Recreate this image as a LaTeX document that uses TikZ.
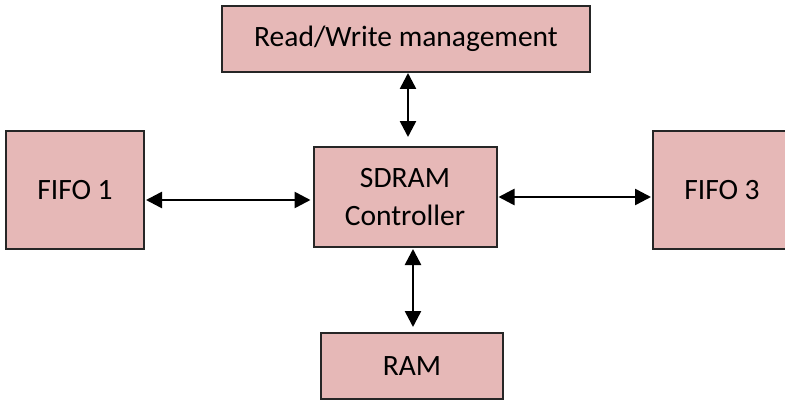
\documentclass[tikz,border=0pt]{standalone}
\usepackage{fontspec}
\setmainfont{Carlito}
\usetikzlibrary{positioning, arrows.meta}
\definecolor{boxfill}{RGB}{230,184,183}

\begin{document}
\begin{tikzpicture}[
    x=1pt, y=-1pt,
    font=\fontsize{29.5}{38}\selectfont,
    % Style for the pink blocks
    block/.style = {draw=black!85, line width=2pt, fill=boxfill, align=center, inner sep=0pt},
    % Style for the two-way links between blocks
    link/.style = {{Triangle[length=16pt,width=16pt]}-{Triangle[length=16pt,width=16pt]}, line width=2.6pt}
]
    \useasboundingbox (0,0) rectangle (785,404);

    % --- BLOCKS ---
    \node[block, minimum width=368pt, minimum height=66pt] (rw) at (406, 39) {Read/Write management};
    \node[block, minimum width=138pt, minimum height=118pt] (fifoA) at (75, 190) {FIFO 1};
    \node[block, minimum width=183pt, minimum height=100pt] (sdram) at (405, 197) {SDRAM\\Controller};
    \node[block, minimum width=138pt, minimum height=118pt] (fifoC) at (722, 190) {FIFO 3};
    \node[block, minimum width=182pt, minimum height=66pt] (ram) at (412, 366) {RAM};

    % --- LINKS ---
    \draw[link, shorten >=9pt] ([xshift=2pt]rw.south) -- ([xshift=2pt]rw.south |- sdram.north);
    \draw[link, shorten <=1pt, shorten >=2pt] ([yshift=-10pt]fifoA.east) -- ([yshift=-10pt]fifoA.east -| sdram.west);
    \draw[link, shorten <=1pt, shorten >=1pt] (sdram.east) -- (sdram.east -| fifoC.west);
    \draw[link, shorten <=1pt, shorten >=5pt] ([xshift=8pt]sdram.south) -- ([xshift=8pt]sdram.south |- ram.north);

\end{tikzpicture}
\end{document}
